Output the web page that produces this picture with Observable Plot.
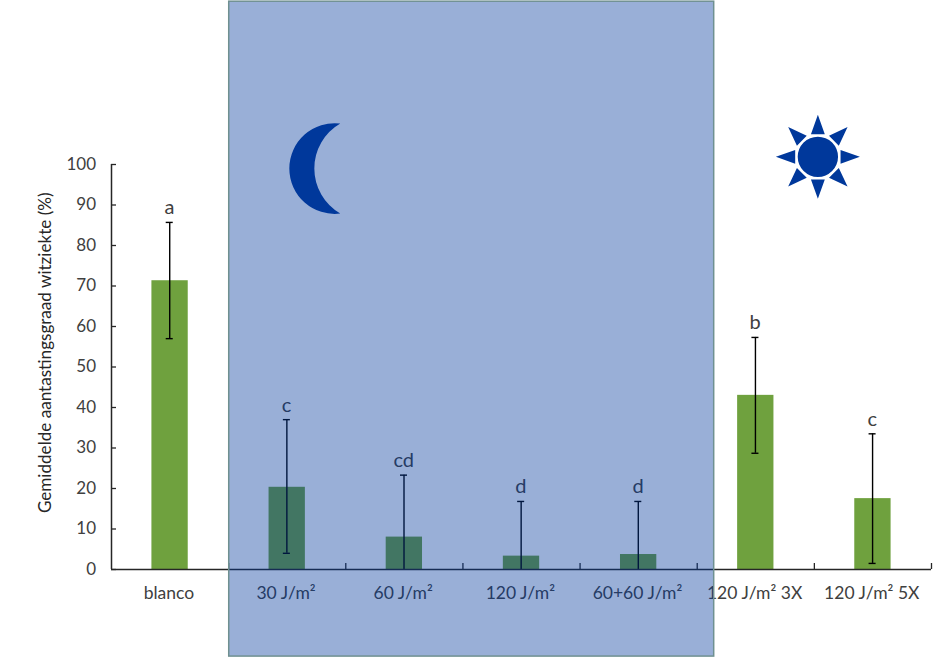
<!DOCTYPE html>
<html><head><meta charset="utf-8">
<script src="https://cdn.jsdelivr.net/npm/d3@7"></script>
<script src="https://cdn.jsdelivr.net/npm/@observablehq/plot@0.6"></script>
<style>html,body{margin:0;padding:0;background:#fff}svg{display:block}</style>
</head><body><div id="chart"></div>
<script>
const categories = ["blanco","30 J/m²","60 J/m²","120 J/m²","60+60 J/m²","120 J/m² 3X","120 J/m² 5X"];
const means = [71.3,20.3,8,3.3,3.7,43,17.5];
const errLow = [57,4,0,0,0,28.7,1.5];
const errHigh = [85.7,37,23.3,16.8,16.8,57.3,33.5];
const letters = ["a","c","cd","d","d","b","c"];
const yTicks = [0,10,20,30,40,50,60,70,80,90,100];
const GREEN="#6fa13e", INK="#262626", TXT="#404040", BLUE="#00389b";
const rows = categories.map((c,i)=>({c,i,m:means[i],lo:errLow[i],hi:errHigh[i],l:letters[i]}));

const moon = {draw(ctx,size){
  const r=Math.sqrt(size/Math.PI);
  const d=Math.PI/180;
  ctx.arc(0.43*r,0,1.008*r,-83*d,-277*d,true);
  ctx.arc(1.131*r,0,1.153*r,120*d,240*d,false);
  ctx.closePath();
}};
const sun = {draw(ctx,size){
  const r=Math.sqrt(size/Math.PI);
  ctx.moveTo(0.48*r,0); ctx.arc(0,0,0.48*r,0,2*Math.PI); ctx.closePath();
  for(let k=0;k<8;k++){
    const a=k*Math.PI/4, c=Math.cos(a), s=Math.sin(a), b=0.54*r, h=0.165*r;
    ctx.moveTo(c*r,s*r);
    ctx.lineTo(c*b-s*h,s*b+c*h);
    ctx.lineTo(c*b+s*h,s*b-c*h);
    ctx.closePath();
  }
}};

const plot = Plot.plot({
  width:940,height:657,marginLeft:111,marginRight:9,marginTop:164,marginBottom:88,
  style:{fontFamily:"Lato, sans-serif",fontSize:"16px",background:"#fff",overflow:"visible"},
  x:{domain:[0,7],range:[111,931]},
  y:{domain:[0,100],range:[569,164]},
  marks:[
    Plot.rectY(rows,{x1:d=>d.i+0.345,x2:d=>d.i+0.655,y1:0,y2:"m",fill:GREEN}),
    Plot.ruleX(rows,{x:d=>d.i+0.497,y1:"lo",y2:"hi",stroke:"#000",strokeWidth:1.4}),
    Plot.ruleY(rows,{x1:d=>d.i+0.467,x2:d=>d.i+0.527,y:"hi",stroke:"#000",strokeWidth:1.4}),
    Plot.ruleY(rows.filter(d=>d.lo>0),{x1:d=>d.i+0.467,x2:d=>d.i+0.527,y:"lo",stroke:"#000",strokeWidth:1.4}),
    Plot.text(rows,{x:d=>d.i+0.495,y:"hi",dy:-14.5,text:"l",fontSize:20,fill:TXT}),
    Plot.ruleY([0],{stroke:INK,strokeWidth:1.5}),
    Plot.ruleX([0],{stroke:INK,strokeWidth:1.5}),
    Plot.axisY({ticks:yTicks,tickSize:-5,tickPadding:20.5,stroke:INK,strokeWidth:1.3,color:TXT,fontSize:17,label:null,textAnchor:"end"}),
    Plot.axisX({ticks:d3.range(1,8),tickSize:-6,tickFormat:()=>"",stroke:INK,strokeWidth:1.3,label:null}),
    Plot.axisX({ticks:categories.map((c,i)=>i+0.49),tickFormat:v=>categories[Math.floor(v)],tickSize:0,tickPadding:17,color:TXT,fontSize:17.5,label:null,stroke:"none"}),
    Plot.text(["Gemiddelde aantastingsgraad witziekte (%)"],{x:-0.565,y:53.5,text:d=>d,rotate:-90,fontSize:17.1,fill:"#262626"}),
    Plot.rect([{x1:1.005,x2:5.145,y1:-21.5,y2:140.2}],{x1:"x1",x2:"x2",y1:"y1",y2:"y2",fill:BLUE,fillOpacity:0.4}),
    Plot.rect([{x1:1.005,x2:5.145,y1:-21.5,y2:140.2}],{x1:"x1",x2:"x2",y1:"y1",y2:"y2",fill:"none",stroke:"#6f9090",strokeWidth:1.5}),
    Plot.dot([{x:1.74,y:99}],{x:"x",y:"y",r:45,symbol:moon,fill:BLUE,stroke:"none"}),
    Plot.dot([{x:6.03,y:101.9}],{x:"x",y:"y",r:42,symbol:sun,fill:BLUE,stroke:"none"})
  ]
});
document.getElementById("chart").append(plot);
</script></body></html>
